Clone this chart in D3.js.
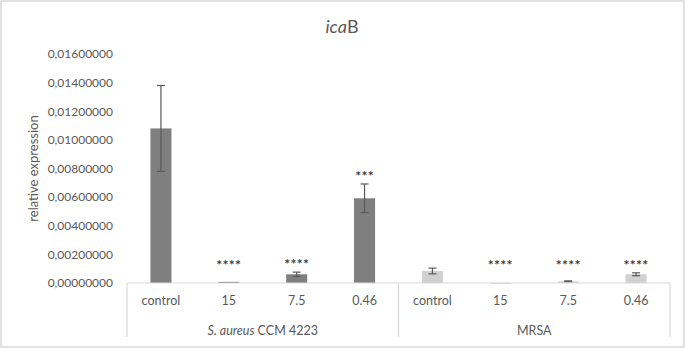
<!DOCTYPE html>
<html><head><meta charset="utf-8">
<script src="https://cdn.jsdelivr.net/npm/d3@7"></script>
<style>body{margin:0;background:#fff}svg{display:block}text{font-family:Lato,"Open Sans",sans-serif}</style>
</head><body><svg id="c" width="685" height="348"></svg>
<script>
const groups = ["S. aureus CCM 4223", "MRSA"];
const categories = ["control", "15", "7.5", "0.46"];
const saureusValues = [0.01080, 0.00008, 0.00061, 0.00592];
const saureusErrors = [0.00300, 0.00000, 0.00015, 0.00100];
const mrsaValues = [0.00084, 0.00001, 0.00012, 0.00061];
const mrsaErrors = [0.00020, 0.00000, 0.00003, 0.00010];
const saureusStars = ["", "****", "****", "***"];
const mrsaStars = ["", "****", "****", "****"];
const yTicks = [0, 0.002, 0.004, 0.006, 0.008, 0.010, 0.012, 0.014, 0.016];

const svg = d3.select("#c");
const W = 685, H = 348;
const x0 = 127, x1 = 670, yB = 283, yT = 54;

svg.append("rect").attr("x", 1).attr("y", 1).attr("width", W - 2).attr("height", H - 2)
  .attr("fill", "#fff").attr("stroke", "#d9d9d9").attr("stroke-width", 1.5);

const rows = [];
groups.forEach((g, gi) => categories.forEach((c, ci) => {
  rows.push({g, c, key: g + "|" + c,
    v: gi === 0 ? saureusValues[ci] : mrsaValues[ci],
    e: gi === 0 ? saureusErrors[ci] : mrsaErrors[ci],
    s: gi === 0 ? saureusStars[ci] : mrsaStars[ci], gi});
}));

const x = d3.scaleBand().domain(rows.map(d => d.key)).range([x0, x1]).paddingInner(0.69).paddingOuter(0.345);
const y = d3.scaleLinear().domain([0, 0.016]).range([yB, yT]);

const fmt = v => d3.format(".8f")(v).replace(".", ",");
const ya = svg.append("g").attr("transform", `translate(${x0 - 14},0)`)
  .call(d3.axisLeft(y).tickValues(yTicks).tickFormat(fmt).tickSize(0).tickPadding(0));
ya.select(".domain").remove();
ya.selectAll("text").attr("font-size", 12).attr("fill", "#595959").attr("font-family", "Lato, sans-serif");

svg.append("text").attr("transform", `translate(38,${(yT + yB) / 2}) rotate(-90)`)
  .attr("text-anchor", "middle").attr("font-size", 13).attr("fill", "#595959").text("relative expression");

const t = svg.append("text").attr("x", 342).attr("y", 33).attr("text-anchor", "middle")
  .attr("font-size", 18).attr("fill", "#595959");
t.append("tspan").attr("font-style", "italic").text("ica");
t.append("tspan").text("B");

const colors = ["#7f7f7f", "#d0d0d0"];
svg.append("g").selectAll("rect").data(rows).join("rect")
  .attr("x", d => x(d.key)).attr("width", x.bandwidth())
  .attr("y", d => y(d.v)).attr("height", d => Math.max(1, yB - y(d.v)))
  .attr("fill", d => colors[d.gi]);

const eb = svg.append("g").attr("stroke", "#595959").attr("stroke-width", 1.2);
rows.filter(d => d.e > 0).forEach(d => {
  const cx = x(d.key) + x.bandwidth() / 2;
  eb.append("line").attr("x1", cx).attr("x2", cx).attr("y1", y(d.v + d.e)).attr("y2", y(d.v - d.e));
  [d.v + d.e, d.v - d.e].forEach(v => eb.append("line").attr("x1", cx - 4).attr("x2", cx + 4).attr("y1", y(v)).attr("y2", y(v)));
});

svg.append("g").selectAll("text").data(rows.filter(d => d.s)).join("text")
  .attr("x", d => x(d.key) + x.bandwidth() / 2)
  .attr("y", d => y(Math.max(d.v + d.e, 0.0007)) - 3)
  .attr("text-anchor", "middle").attr("font-size", 14).attr("font-weight", "bold").attr("fill", "#404040")
  .attr("letter-spacing", 0.3).text(d => d.s);

const ax = svg.append("g").attr("stroke", "#d9d9d9").attr("stroke-width", 1.2);
ax.append("line").attr("x1", x0).attr("x2", x1).attr("y1", yB).attr("y2", yB);
const gw = (x1 - x0) / groups.length;
[0, 1, 2].forEach(i => ax.append("line").attr("x1", x0 + i * gw).attr("x2", x0 + i * gw).attr("y1", yB).attr("y2", 337));

svg.append("g").selectAll("text").data(rows).join("text")
  .attr("x", d => x(d.key) + x.bandwidth() / 2).attr("y", 305)
  .attr("text-anchor", "middle").attr("font-size", 12.5).attr("fill", "#595959").text(d => d.c);

const gl = svg.append("g");
const g0 = gl.append("text").attr("x", x0 + gw / 2).attr("y", 335).attr("text-anchor", "middle")
  .attr("font-size", 12.5).attr("fill", "#595959");
g0.append("tspan").attr("font-style", "italic").text("S. aureus");
g0.append("tspan").text(" CCM 4223");
gl.append("text").attr("x", x0 + gw * 1.5).attr("y", 335).attr("text-anchor", "middle")
  .attr("font-size", 12.5).attr("fill", "#595959").text(groups[1]);
</script></body></html>
